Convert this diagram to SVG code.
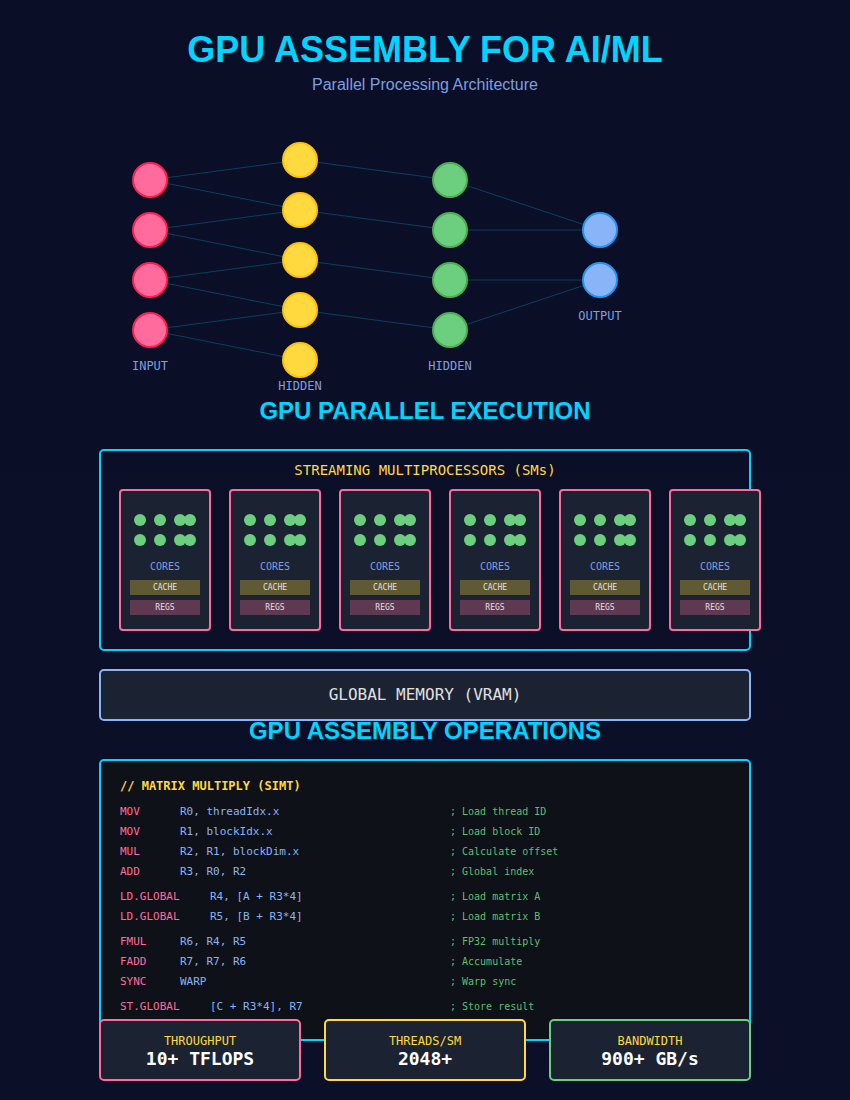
<svg xmlns="http://www.w3.org/2000/svg" width="850" height="1100" viewBox="0 0 850 1100">
<style>
.mono{font-family:"DejaVu Sans Mono","Liberation Mono",monospace}
.sans{font-family:"Liberation Sans",Arial,sans-serif}
.h{font-family:"Liberation Sans",Arial,sans-serif;font-weight:bold;fill:#00d4ff;text-anchor:middle}
.lbl{font-family:"DejaVu Sans Mono",monospace;font-size:12px;fill:#7e9fe0;text-anchor:middle}
.link{stroke:#00d4ff;stroke-opacity:0.25;stroke-width:1;fill:none}
.in{fill:#ff6b9d;stroke:#ff1f4f;stroke-width:2}
.h1{fill:#ffd93d;stroke:#ffc107;stroke-width:2}
.h2{fill:#6bcf7f;stroke:#4caf50;stroke-width:2}
.out{fill:#8ab4f8;stroke:#2196f3;stroke-width:2}
.sm{fill:#1b2332;stroke:#ff6b9d;stroke-width:2}
.core{fill:#6bcf7f}
.cache{fill:#ffd93d;fill-opacity:0.3}
.regs{fill:#ff6b9d;fill-opacity:0.3}
.tiny{font-family:"DejaVu Sans Mono",monospace;font-size:8px;fill:#e0e0e0;text-anchor:middle}
.cores{font-family:"DejaVu Sans Mono",monospace;font-size:10px;fill:#7e9fe0;text-anchor:middle}
.op{fill:#ff6b9d}
.arg{fill:#8ab4f8}
.cm{fill:#5fbf70;font-size:10px}
.code{font-family:"DejaVu Sans Mono",monospace;font-size:11px}
.hdr{font-family:"DejaVu Sans Mono",monospace;font-size:12px;font-weight:bold;fill:#ffd93d}
.stat{fill:#1b2332;stroke-width:2}
.sl{font-family:"DejaVu Sans Mono",monospace;font-size:12px;fill:#ffd93d;text-anchor:middle}
.sv{font-family:"DejaVu Sans Mono",monospace;font-size:18px;font-weight:bold;fill:#ffffff;text-anchor:middle}
</style>
<defs>
<linearGradient id="bg" x1="0" y1="0" x2="0" y2="1">
<stop offset="0" stop-color="#0a0e27"/>
<stop offset="1" stop-color="#0b1028"/>
</linearGradient>
</defs>
<rect x="0" y="0" width="850" height="1100" fill="url(#bg)"/>

<g id="title">
<text class="h" x="425" y="62" font-size="36">GPU ASSEMBLY FOR AI/ML</text>
<text class="sans" x="425" y="90" font-size="16" fill="#7e9fe0" text-anchor="middle">Parallel Processing Architecture</text>
</g>

<g id="connectors">
<line class="link" x1="150" y1="180" x2="300" y2="160"/>
<line class="link" x1="150" y1="180" x2="300" y2="210"/>
<line class="link" x1="150" y1="230" x2="300" y2="210"/>
<line class="link" x1="150" y1="230" x2="300" y2="260"/>
<line class="link" x1="150" y1="280" x2="300" y2="260"/>
<line class="link" x1="150" y1="280" x2="300" y2="310"/>
<line class="link" x1="150" y1="330" x2="300" y2="310"/>
<line class="link" x1="150" y1="330" x2="300" y2="360"/>
<line class="link" x1="300" y1="160" x2="450" y2="180"/>
<line class="link" x1="300" y1="210" x2="450" y2="230"/>
<line class="link" x1="300" y1="260" x2="450" y2="280"/>
<line class="link" x1="300" y1="310" x2="450" y2="330"/>
<line class="link" x1="450" y1="180" x2="600" y2="230"/>
<line class="link" x1="450" y1="230" x2="600" y2="230" stroke-width="1.5"/>
<line class="link" x1="450" y1="280" x2="600" y2="280" stroke-width="1.5"/>
<line class="link" x1="450" y1="330" x2="600" y2="280"/>
</g>

<g id="input-layer">
<circle class="in" cx="150" cy="180" r="17"/>
<circle class="in" cx="150" cy="230" r="17"/>
<circle class="in" cx="150" cy="280" r="17"/>
<circle class="in" cx="150" cy="330" r="17"/>
<text class="lbl" x="150" y="370">INPUT</text>
</g>
<g id="hidden-layer-1">
<circle class="h1" cx="300" cy="160" r="17"/>
<circle class="h1" cx="300" cy="210" r="17"/>
<circle class="h1" cx="300" cy="260" r="17"/>
<circle class="h1" cx="300" cy="310" r="17"/>
<circle class="h1" cx="300" cy="360" r="17"/>
<text class="lbl" x="300" y="390">HIDDEN</text>
</g>
<g id="hidden-layer-2">
<circle class="h2" cx="450" cy="180" r="17"/>
<circle class="h2" cx="450" cy="230" r="17"/>
<circle class="h2" cx="450" cy="280" r="17"/>
<circle class="h2" cx="450" cy="330" r="17"/>
<text class="lbl" x="450" y="370">HIDDEN</text>
</g>
<g id="output-layer">
<circle class="out" cx="600" cy="230" r="17"/>
<circle class="out" cx="600" cy="280" r="17"/>
<text class="lbl" x="600" y="320">OUTPUT</text>
</g>

<g id="sm-section">
<text class="h" x="425" y="419" font-size="24">GPU PARALLEL EXECUTION</text>
<rect x="100" y="450" width="650" height="200" rx="4" fill="none" stroke="#00d4ff" stroke-width="2"/>
<text class="mono" x="425" y="475" font-size="14" fill="#ffd93d" text-anchor="middle">STREAMING MULTIPROCESSORS (SMs)</text>
</g>

<g id="sm1" transform="translate(120,0)">
<rect class="sm" x="0" y="490" width="90" height="140" rx="3"/>
<circle class="core" cx="20" cy="520" r="6"/><circle class="core" cx="40" cy="520" r="6"/><circle class="core" cx="60" cy="520" r="6"/><circle class="core" cx="70" cy="520" r="6"/>
<circle class="core" cx="20" cy="540" r="6"/><circle class="core" cx="40" cy="540" r="6"/><circle class="core" cx="60" cy="540" r="6"/><circle class="core" cx="70" cy="540" r="6"/>
<text class="cores" x="45" y="570">CORES</text>
<rect class="cache" x="10" y="580" width="70" height="15"/><text class="tiny" x="45" y="590">CACHE</text>
<rect class="regs" x="10" y="600" width="70" height="15"/><text class="tiny" x="45" y="610">REGS</text>
</g>
<g id="sm2" transform="translate(230,0)">
<rect class="sm" x="0" y="490" width="90" height="140" rx="3"/>
<circle class="core" cx="20" cy="520" r="6"/><circle class="core" cx="40" cy="520" r="6"/><circle class="core" cx="60" cy="520" r="6"/><circle class="core" cx="70" cy="520" r="6"/>
<circle class="core" cx="20" cy="540" r="6"/><circle class="core" cx="40" cy="540" r="6"/><circle class="core" cx="60" cy="540" r="6"/><circle class="core" cx="70" cy="540" r="6"/>
<text class="cores" x="45" y="570">CORES</text>
<rect class="cache" x="10" y="580" width="70" height="15"/><text class="tiny" x="45" y="590">CACHE</text>
<rect class="regs" x="10" y="600" width="70" height="15"/><text class="tiny" x="45" y="610">REGS</text>
</g>
<g id="sm3" transform="translate(340,0)">
<rect class="sm" x="0" y="490" width="90" height="140" rx="3"/>
<circle class="core" cx="20" cy="520" r="6"/><circle class="core" cx="40" cy="520" r="6"/><circle class="core" cx="60" cy="520" r="6"/><circle class="core" cx="70" cy="520" r="6"/>
<circle class="core" cx="20" cy="540" r="6"/><circle class="core" cx="40" cy="540" r="6"/><circle class="core" cx="60" cy="540" r="6"/><circle class="core" cx="70" cy="540" r="6"/>
<text class="cores" x="45" y="570">CORES</text>
<rect class="cache" x="10" y="580" width="70" height="15"/><text class="tiny" x="45" y="590">CACHE</text>
<rect class="regs" x="10" y="600" width="70" height="15"/><text class="tiny" x="45" y="610">REGS</text>
</g>
<g id="sm4" transform="translate(450,0)">
<rect class="sm" x="0" y="490" width="90" height="140" rx="3"/>
<circle class="core" cx="20" cy="520" r="6"/><circle class="core" cx="40" cy="520" r="6"/><circle class="core" cx="60" cy="520" r="6"/><circle class="core" cx="70" cy="520" r="6"/>
<circle class="core" cx="20" cy="540" r="6"/><circle class="core" cx="40" cy="540" r="6"/><circle class="core" cx="60" cy="540" r="6"/><circle class="core" cx="70" cy="540" r="6"/>
<text class="cores" x="45" y="570">CORES</text>
<rect class="cache" x="10" y="580" width="70" height="15"/><text class="tiny" x="45" y="590">CACHE</text>
<rect class="regs" x="10" y="600" width="70" height="15"/><text class="tiny" x="45" y="610">REGS</text>
</g>
<g id="sm5" transform="translate(560,0)">
<rect class="sm" x="0" y="490" width="90" height="140" rx="3"/>
<circle class="core" cx="20" cy="520" r="6"/><circle class="core" cx="40" cy="520" r="6"/><circle class="core" cx="60" cy="520" r="6"/><circle class="core" cx="70" cy="520" r="6"/>
<circle class="core" cx="20" cy="540" r="6"/><circle class="core" cx="40" cy="540" r="6"/><circle class="core" cx="60" cy="540" r="6"/><circle class="core" cx="70" cy="540" r="6"/>
<text class="cores" x="45" y="570">CORES</text>
<rect class="cache" x="10" y="580" width="70" height="15"/><text class="tiny" x="45" y="590">CACHE</text>
<rect class="regs" x="10" y="600" width="70" height="15"/><text class="tiny" x="45" y="610">REGS</text>
</g>
<g id="sm6" transform="translate(670,0)">
<rect class="sm" x="0" y="490" width="90" height="140" rx="3"/>
<circle class="core" cx="20" cy="520" r="6"/><circle class="core" cx="40" cy="520" r="6"/><circle class="core" cx="60" cy="520" r="6"/><circle class="core" cx="70" cy="520" r="6"/>
<circle class="core" cx="20" cy="540" r="6"/><circle class="core" cx="40" cy="540" r="6"/><circle class="core" cx="60" cy="540" r="6"/><circle class="core" cx="70" cy="540" r="6"/>
<text class="cores" x="45" y="570">CORES</text>
<rect class="cache" x="10" y="580" width="70" height="15"/><text class="tiny" x="45" y="590">CACHE</text>
<rect class="regs" x="10" y="600" width="70" height="15"/><text class="tiny" x="45" y="610">REGS</text>
</g>

<g id="global-memory">
<rect x="100" y="670" width="650" height="50" rx="4" fill="#1b2332" stroke="#8ab4f8" stroke-width="2"/>
<text class="mono" x="425" y="700" font-size="16" fill="#e0e0e0" text-anchor="middle">GLOBAL MEMORY (VRAM)</text>
</g>

<g id="code">
<text class="h" x="425" y="739" font-size="24">GPU ASSEMBLY OPERATIONS</text>
<rect x="100" y="760" width="650" height="280" rx="4" fill="#0e1117" stroke="#00d4ff" stroke-width="2"/>
<text class="hdr" x="120" y="790">// MATRIX MULTIPLY (SIMT)</text>
<g class="code">
<text class="op" x="120" y="815">MOV</text><text class="arg" x="180" y="815">R0, threadIdx.x</text><text class="cm" x="450" y="815">; Load thread ID</text>
<text class="op" x="120" y="835">MOV</text><text class="arg" x="180" y="835">R1, blockIdx.x</text><text class="cm" x="450" y="835">; Load block ID</text>
<text class="op" x="120" y="855">MUL</text><text class="arg" x="180" y="855">R2, R1, blockDim.x</text><text class="cm" x="450" y="855">; Calculate offset</text>
<text class="op" x="120" y="875">ADD</text><text class="arg" x="180" y="875">R3, R0, R2</text><text class="cm" x="450" y="875">; Global index</text>
<text class="op" x="120" y="900">LD.GLOBAL</text><text class="arg" x="210" y="900">R4, [A + R3*4]</text><text class="cm" x="450" y="900">; Load matrix A</text>
<text class="op" x="120" y="920">LD.GLOBAL</text><text class="arg" x="210" y="920">R5, [B + R3*4]</text><text class="cm" x="450" y="920">; Load matrix B</text>
<text class="op" x="120" y="945">FMUL</text><text class="arg" x="180" y="945">R6, R4, R5</text><text class="cm" x="450" y="945">; FP32 multiply</text>
<text class="op" x="120" y="965">FADD</text><text class="arg" x="180" y="965">R7, R7, R6</text><text class="cm" x="450" y="965">; Accumulate</text>
<text class="op" x="120" y="985">SYNC</text><text class="arg" x="180" y="985">WARP</text><text class="cm" x="450" y="985">; Warp sync</text>
<text class="op" x="120" y="1010">ST.GLOBAL</text><text class="arg" x="210" y="1010">[C + R3*4], R7</text><text class="cm" x="450" y="1010">; Store result</text>
</g>
</g>

<g id="stat-throughput">
<rect class="stat" x="100" y="1020" width="200" height="60" rx="4" stroke="#ff6b9d"/>
<text class="sl" x="200" y="1045">THROUGHPUT</text>
<text class="sv" x="200" y="1065">10+ TFLOPS</text>
</g>
<g id="stat-threads">
<rect class="stat" x="325" y="1020" width="200" height="60" rx="4" stroke="#ffd93d"/>
<text class="sl" x="425" y="1045">THREADS/SM</text>
<text class="sv" x="425" y="1065">2048+</text>
</g>
<g id="stat-bandwidth">
<rect class="stat" x="550" y="1020" width="200" height="60" rx="4" stroke="#6bcf7f"/>
<text class="sl" x="650" y="1045">BANDWIDTH</text>
<text class="sv" x="650" y="1065">900+ GB/s</text>
</g>
</svg>
